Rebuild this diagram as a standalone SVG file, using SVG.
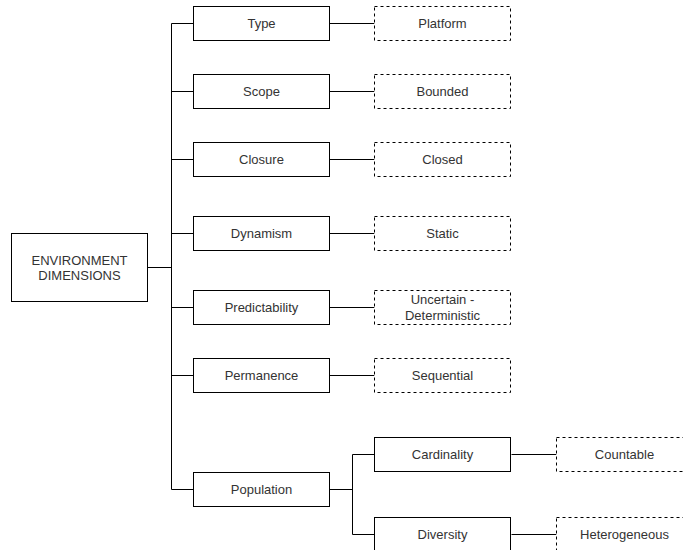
<svg xmlns="http://www.w3.org/2000/svg" width="683" height="550" viewBox="0 0 683 550">
<style>
.box{fill:#fff;stroke:#000;stroke-width:1}
.dash{fill:#fff;stroke:#000;stroke-width:1;stroke-dasharray:3 3}
.t{font-family:"Liberation Sans",Arial,sans-serif;font-size:13px;fill:#333;text-anchor:middle;dominant-baseline:central}
.c{fill:none;stroke:#000;stroke-width:1}
</style>
<rect width="683" height="550" fill="#fff"/>
<g id="connectors">
<path class="c" d="M147.5 267.5H171.5M171.5 23.5V489.5M171.5 23.5H193.5M171.5 91.5H193.5M171.5 159.5H193.5M171.5 233.5H193.5M171.5 307.5H193.5M171.5 375.5H193.5M171.5 489.5H193.5"/>
<path class="c" d="M329.5 23.5H374.5M329.5 91.5H374.5M329.5 159.5H374.5M329.5 233.5H374.5M329.5 307.5H374.5M329.5 375.5H374.5"/>
<path class="c" d="M329.5 489.5H352.5M352.5 454.5V534.5M352.5 454.5H374.5M352.5 534.5H374.5M511.5 454.5H556.5M511.5 534.5H556.5"/>
</g>
<g id="root"><rect class="box" x="11.5" y="233.5" width="136" height="68"/><text class="t" x="79.5" y="260">ENVIRONMENT</text><text class="t" x="79.5" y="275">DIMENSIONS</text></g>
<g id="type"><rect class="box" x="193.5" y="6.5" width="136" height="34"/><text class="t" x="261.5" y="23.5">Type</text></g>
<g id="platform"><rect class="dash" x="374.5" y="6.5" width="136" height="34"/><text class="t" x="442.5" y="23.5">Platform</text></g>
<g id="scope"><rect class="box" x="193.5" y="74.5" width="136" height="34"/><text class="t" x="261.5" y="91.5">Scope</text></g>
<g id="bounded"><rect class="dash" x="374.5" y="74.5" width="136" height="34"/><text class="t" x="442.5" y="91.5">Bounded</text></g>
<g id="closure"><rect class="box" x="193.5" y="142.5" width="136" height="34"/><text class="t" x="261.5" y="159.5">Closure</text></g>
<g id="closed"><rect class="dash" x="374.5" y="142.5" width="136" height="34"/><text class="t" x="442.5" y="159.5">Closed</text></g>
<g id="dynamism"><rect class="box" x="193.5" y="216.5" width="136" height="34"/><text class="t" x="261.5" y="233.5">Dynamism</text></g>
<g id="static"><rect class="dash" x="374.5" y="216.5" width="136" height="34"/><text class="t" x="442.5" y="233.5">Static</text></g>
<g id="predictability"><rect class="box" x="193.5" y="290.5" width="136" height="34"/><text class="t" x="261.5" y="307.5">Predictability</text></g>
<g id="uncertain"><rect class="dash" x="374.5" y="290.5" width="136" height="34"/><text class="t" x="442.5" y="299">Uncertain -</text><text class="t" x="442.5" y="315.5">Deterministic</text></g>
<g id="permanence"><rect class="box" x="193.5" y="358.5" width="136" height="34"/><text class="t" x="261.5" y="375.5">Permanence</text></g>
<g id="sequential"><rect class="dash" x="374.5" y="358.5" width="136" height="34"/><text class="t" x="442.5" y="375.5">Sequential</text></g>
<g id="population"><rect class="box" x="193.5" y="472.5" width="136" height="34"/><text class="t" x="261.5" y="489.5">Population</text></g>
<g id="cardinality"><rect class="box" x="374.5" y="437.5" width="136" height="34"/><text class="t" x="442.5" y="454.5">Cardinality</text></g>
<g id="countable"><rect class="dash" x="556.5" y="437.5" width="136" height="34"/><text class="t" x="624.5" y="454.5">Countable</text></g>
<g id="diversity"><rect class="box" x="374.5" y="517.5" width="136" height="34"/><text class="t" x="442.5" y="534.5">Diversity</text></g>
<g id="heterogeneous"><rect class="dash" x="556.5" y="517.5" width="136" height="34"/><text class="t" x="624.5" y="534.5">Heterogeneous</text></g>
</svg>
